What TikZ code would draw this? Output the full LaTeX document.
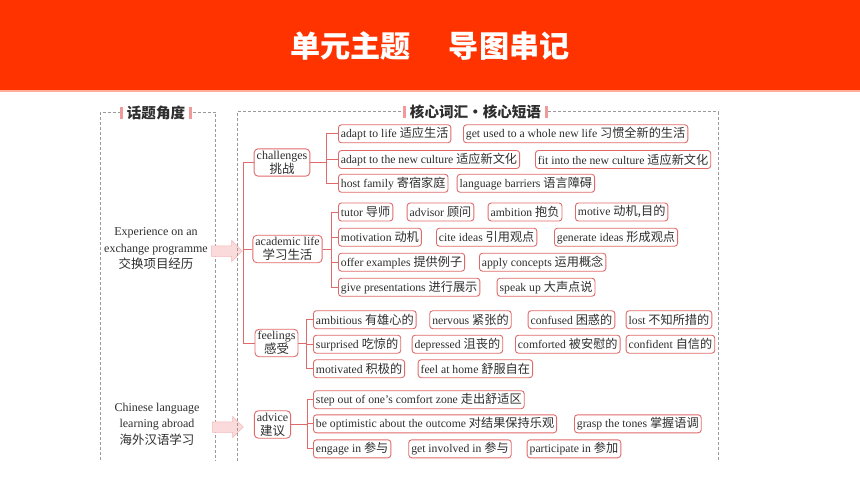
\documentclass[tikz,border=0pt]{standalone}
\usepackage{fontspec}
\setmainfont{Liberation Serif}
\newfontfamily\zhfont{Noto Sans CJK SC}[Scale=1.04]
\newcommand{\zh}[1]{{\zhfont #1}}
\usetikzlibrary{shapes.arrows}
\definecolor{barred}{HTML}{FF3300}
\definecolor{mapred}{HTML}{E06A6A}
\definecolor{mappink}{HTML}{F09A9A}
\definecolor{arrowpink}{HTML}{FADADA}
\definecolor{dashgray}{HTML}{9A9A9A}
\definecolor{inkgray}{HTML}{2E2E2E}

\begin{document}
\begin{tikzpicture}[x=1pt, y=-1pt,
    word/.style={draw=mapred, rounded corners=3pt, line width=0.9pt, fill=white, text=inkgray,
      anchor=west, font=\fontsize{11.7}{13}\selectfont, inner xsep=2.5pt, inner ysep=1pt, minimum height=18pt},
    topic/.style={draw=mapred, rounded corners=4pt, line width=0.9pt, fill=white, text=inkgray,
      align=center, font=\fontsize{12}{14}\selectfont, inner xsep=2.5pt, inner ysep=2pt},
    link/.style={draw=mapred, line width=0.9pt},
    frame/.style={draw=dashgray, line width=1pt, dash pattern=on 3pt off 2pt},
    hdr/.style={fill=white, text=inkgray, font=\zhfont\bfseries\fontsize{14}{16}\selectfont, inner xsep=7pt, inner ysep=2pt},
    theme/.style={text=inkgray, align=center, font=\fontsize{12}{16.5}\selectfont},
    push/.style={single arrow, fill=arrowpink, draw=mappink!70, line width=0.5pt, anchor=west,
      inner xsep=0pt, inner ysep=5pt, minimum height=31pt, single arrow head extend=5.5pt},
  ]
  \useasboundingbox (0,0) rectangle (860,484);

  % ================= title bar
  \fill[barred] (0,0) rectangle (860,90);
  \fill[barred!40] (0,90) rectangle (860,92);
  \node[text=white, font=\zhfont\bfseries\fontsize{29}{31}\selectfont] (title) at (430,46)
    {单元主题\hspace{1.25em}导图串记};

  % ================= left frame: topic angle
  \draw[frame] (100,460) -- (100,112.5) -- (215.5,112.5) -- (215.5,460);
  \node[hdr] (hdtopic) at (156,113) {话题角度};
  \fill[mappink] ([shift={(0,-6)}]hdtopic.west) rectangle ([shift={(3,6)}]hdtopic.west);
  \fill[mappink] ([shift={(-3,-6)}]hdtopic.east) rectangle ([shift={(0,6)}]hdtopic.east);
  \node[theme] (exch) at (156,249) {Experience on an\\exchange programme\\\zh{交换项目经历}};
  \node[theme] (abroad) at (157,424) {Chinese language\\learning abroad\\\zh{海外汉语学习}};
  \node[push] (arr1) at (211,251) {};
  \node[push] (arr2) at (212,427) {};

  % ================= right frame: words and phrases
  \draw[frame] (237,461) -- (237,112) -- (718,112) -- (718,461);
  \node[hdr] (hdvocab) at (475.5,112) {核心词汇·核心短语};
  \fill[mappink] ([shift={(0,-6)}]hdvocab.west) rectangle ([shift={(3,6)}]hdvocab.west);
  \fill[mappink] ([shift={(-3,-6)}]hdvocab.east) rectangle ([shift={(0,6)}]hdvocab.east);

  % topics
  \node[topic] (chal) at (282,162.5) {challenges\\\zh{挑战}};
  \node[topic] (acad) at (287.5,249) {academic life\\\zh{学习生活}};
  \node[topic] (feel) at (276.5,343) {feelings\\\zh{感受}};
  \node[topic] (adv) at (272.5,424.5) {advice\\\zh{建议}};

  % challenges
  \node[word] (ch11) at (338,133.8) {adapt to life \zh{适应生活}};
  \node[word] (ch12) at (463,133.8) {get used to a whole new life \zh{习惯全新的生活}};
  \node[word] (ch21) at (338,159.5) {adapt to the new culture \zh{适应新文化}};
  \node[word] (ch22) at (535,159.5) {fit into the new culture \zh{适应新文化}};
  \node[word] (ch31) at (338,183.3) {host family \zh{寄宿家庭}};
  \node[word] (ch32) at (456.7,183.3) {language barriers \zh{语言障碍}};

  % academic life
  \node[word] (ac11) at (338,212) {tutor \zh{导师}};
  \node[word] (ac12) at (406.7,212) {advisor \zh{顾问}};
  \node[word] (ac13) at (487.7,212) {ambition \zh{抱负}};
  \node[word] (ac14) at (575,212) {motive \zh{动机,目的}};
  \node[word] (ac21) at (338,237.2) {motivation \zh{动机}};
  \node[word] (ac22) at (436,237.2) {cite ideas \zh{引用观点}};
  \node[word] (ac23) at (554,237.2) {generate ideas \zh{形成观点}};
  \node[word] (ac31) at (338,262.2) {offer examples \zh{提供例子}};
  \node[word] (ac32) at (479,262.2) {apply concepts \zh{运用概念}};
  \node[word] (ac41) at (338,287.2) {give presentations \zh{进行展示}};
  \node[word] (ac42) at (496.7,287.2) {speak up \zh{大声点说}};

  % feelings
  \node[word] (fe11) at (313,319.7) {ambitious \zh{有雄心的}};
  \node[word] (fe12) at (429.3,319.7) {nervous \zh{紧张的}};
  \node[word] (fe13) at (527.7,319.7) {confused \zh{困惑的}};
  \node[word] (fe14) at (625.7,319.7) {lost \zh{不知所措的}};
  \node[word] (fe21) at (313,344.2) {surprised \zh{吃惊的}};
  \node[word] (fe22) at (411.7,344.2) {depressed \zh{沮丧的}};
  \node[word] (fe23) at (515,344.2) {comforted \zh{被安慰的}};
  \node[word] (fe24) at (625.7,344.2) {confident \zh{自信的}};
  \node[word] (fe31) at (313,368.7) {motivated \zh{积极的}};
  \node[word] (fe32) at (417.7,368.7) {feel at home \zh{舒服自在}};

  % advice
  \node[word] (ad11) at (313,399.7) {step out of one's comfort zone \zh{走出舒适区}};
  \node[word] (ad21) at (313,423.8) {be optimistic about the outcome \zh{对结果保持乐观}};
  \node[word] (ad22) at (574,423.8) {grasp the tones \zh{掌握语调}};
  \node[word] (ad31) at (313,448.8) {engage in \zh{参与}};
  \node[word] (ad32) at (408.3,448.8) {get involved in \zh{参与}};
  \node[word] (ad33) at (526.7,448.8) {participate in \zh{参加}};

  % ================= brackets
  \coordinate (trunk) at (243,0);
  \coordinate (cb) at (326,0);
  \coordinate (ab) at (331,0);
  \coordinate (fb) at (306,0);
  \coordinate (vb) at (307,0);
  \draw[link] (chal.west) -| (trunk |- feel.west) -- (feel.west);
  \draw[link] (acad.west) -- (trunk |- acad.west);

  \draw[link] (chal.east) -- (cb |- chal.east);
  \draw[link] (cb |- ch11.west) -- (cb |- ch31.west);
  \foreach \n in {ch11,ch21,ch31} { \draw[link] (\n.west) -- (cb |- \n.west); }

  \draw[link] (acad.east) -- (ab |- acad.east);
  \draw[link] (ab |- ac11.west) -- (ab |- ac41.west);
  \foreach \n in {ac11,ac21,ac31,ac41} { \draw[link] (\n.west) -- (ab |- \n.west); }

  \draw[link] (feel.east) -- (fb |- feel.east);
  \draw[link] (fb |- fe11.west) -- (fb |- fe31.west);
  \foreach \n in {fe11,fe21,fe31} { \draw[link] (\n.west) -- (fb |- \n.west); }

  \draw[link] (adv.east) -- (vb |- adv.east);
  \draw[link] (vb |- ad11.west) -- (vb |- ad31.west);
  \foreach \n in {ad11,ad21,ad31} { \draw[link] (\n.west) -- (vb |- \n.west); }
\end{tikzpicture}
\end{document}
